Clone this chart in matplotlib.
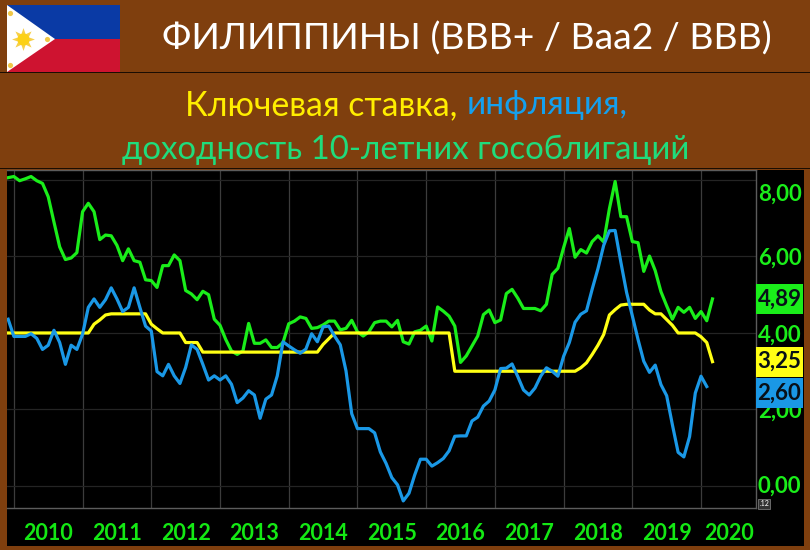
import matplotlib
matplotlib.use("Agg")
import matplotlib.pyplot as plt
from matplotlib.patches import Rectangle, Polygon
import numpy as np

# monthly values, Dec 2009 .. Feb 2020
green = [8.06, 8.09, 7.98, 8.03, 8.09, 7.98, 7.91, 7.56, 6.90, 6.25, 5.92, 5.96, 6.10,
         7.17, 7.39, 7.17, 6.44, 6.56, 6.54, 6.29, 5.89, 6.20, 5.89, 5.85, 5.39,
         5.37, 5.19, 5.76, 5.76, 6.04, 5.89, 5.11, 5.02, 4.87, 5.09, 5.00, 4.36,
         4.20, 3.83, 3.53, 3.44, 3.53, 4.25, 3.73, 3.73, 3.82, 3.62, 3.62, 3.75,
         4.24, 4.31, 4.42, 4.38, 4.12, 4.14, 4.21, 4.31, 4.31, 4.08, 4.12, 4.33,
         4.03, 3.92, 4.03, 4.27, 4.31, 4.31, 4.16, 4.33, 3.77, 3.71, 4.03, 4.07,
         4.18, 3.79, 4.68, 4.57, 4.44, 4.18, 3.23, 3.40, 3.66, 3.92, 4.48, 4.60,
         4.27, 4.34, 5.03, 5.14, 4.91, 4.64, 4.64, 4.64, 4.58, 4.75, 5.53, 5.69,
         6.23, 6.73, 5.98, 6.18, 6.09, 6.39, 6.54, 6.38, 7.25, 7.96, 7.04, 7.04,
         6.39, 6.36, 5.61, 6.01, 5.63, 5.08, 4.71, 4.36, 4.67, 4.54, 4.67, 4.38,
         4.56, 4.32, 4.89]
blue = [4.36, 3.91, 3.91, 3.91, 3.98, 3.86, 3.57, 3.68, 4.07, 3.75, 3.18, 3.68, 3.57,
        3.97, 4.67, 4.89, 4.67, 4.87, 5.18, 4.89, 4.56, 4.67, 5.18, 4.67, 4.18,
        4.05, 2.99, 2.88, 3.18, 2.88, 2.68, 3.10, 3.69, 3.57, 3.18, 2.77, 2.88,
        2.77, 2.88, 2.66, 2.18, 2.30, 2.49, 2.38, 1.77, 2.27, 2.38, 2.88, 3.77,
        3.66, 3.56, 3.47, 3.58, 3.98, 3.77, 4.16, 4.18, 3.92, 3.69, 3.01, 1.89,
        1.50, 1.50, 1.50, 1.39, 0.89, 0.59, 0.22, 0.03, -0.39, -0.19, 0.29, 0.70,
        0.70, 0.52, 0.61, 0.72, 0.92, 1.30, 1.31, 1.31, 1.70, 1.80, 2.09, 2.22,
        2.51, 3.07, 3.08, 3.19, 2.86, 2.51, 2.38, 2.56, 2.87, 3.09, 3.00, 2.87,
        3.39, 3.75, 4.28, 4.49, 4.58, 5.15, 5.68, 6.29, 6.67, 6.68, 5.85, 5.06,
        4.45, 3.83, 3.26, 2.97, 3.16, 2.65, 2.36, 1.60, 0.88, 0.76, 1.29, 2.43,
        2.87, 2.60]
yellow = [4.0] * 15 + [4.23, 4.34, 4.47] + [4.5] * 7 + [4.23, 4.11] + [4.0] * 4 + \
         [3.75, 3.75, 3.75] + [3.5] * 21 + [3.7, 3.85] + [4.0] * 21 + [3.0] * 22 + \
         [3.09, 3.22, 3.44, 3.68, 3.96, 4.47, 4.61, 4.73, 4.75, 4.75, 4.75, 4.75,
          4.6, 4.5, 4.5, 4.35, 4.2, 4.0, 4.0, 4.0, 4.0, 3.9, 3.75, 3.25]

year_labels = ["2010", "2011", "2012", "2013", "2014", "2015", "2016", "2017", "2018", "2019", "2020"]
year_starts = list(range(2010, 2021))
y_ticks = [0, 2, 4, 6, 8]
y_labels = ["0,00", "2,00", "4,00", "6,00", "8,00"]
last_labels = ["4,89", "3,25", "2,60"]

BROWN = "#7f3f0e"
GREEN = "#1aee1a"
YELLOW = "#ffff14"
BLUE = "#1a98e6"
TEAL = "#1fdc7c"
W, H = 810, 550

plt.rcParams["font.family"] = ["Lato", "DejaVu Sans"]

fig = plt.figure(figsize=(8.1, 5.5), dpi=100, facecolor=BROWN)


def px_rect(x0, y0, x1, y1, color):
    fig.add_artist(Rectangle((x0 / W, 1 - y1 / H), (x1 - x0) / W, (y1 - y0) / H,
                             transform=fig.transFigure, color=color, lw=0, zorder=-1))


# black panel and divider lines
px_rect(7, 170, 804, 546, "black")
px_rect(0, 72, W, 73, "#1a0d02")
px_rect(0, 168, W, 169, "#1a0d02")

# flag
fl = fig.add_axes([7 / W, 1 - 72 / H, 113 / W, 67 / H])
fl.set_xlim(0, 113)
fl.set_ylim(67, 0)
fl.axis("off")
fl.add_patch(Rectangle((0, 0), 113, 34, color="#0a3aa5", lw=0))
fl.add_patch(Rectangle((0, 34), 113, 33, color="#ce1330", lw=0))
fl.add_patch(Polygon([(0, 0), (48, 34), (0, 67)], color="white", lw=0))
fl.scatter([16], [34], s=270, marker=(8, 1, 0), color="#f7d04a", lw=0)
fl.scatter([16], [34], s=75, color="#fcd116", lw=0)
fl.scatter([3, 3, 40], [8, 60, 34], s=14, color="#f0c848", lw=0)

# headings
fig.text(162 / W, 1 - 39 / H, "ФИЛИППИНЫ (BBB+ / Baa2 / BBB)", color="white",
         fontsize=26.9, va="center", ha="left")
fig.text(185 / W, 1 - 105 / H, "Ключевая ставка,", color="#ffee00",
         fontsize=24.4, va="center", ha="left")
fig.text(467 / W, 1 - 105 / H, "инфляция,", color="#14a0ee",
         fontsize=24, va="center", ha="left")
fig.text(122 / W, 1 - 150 / H, "доходность 10-летних гособлигаций", color=TEAL,
         fontsize=23.8, va="center", ha="left")

ax = fig.add_axes([7 / W, 1 - 508 / H, 749 / W, 338 / H])
ax.set_facecolor("black")

months = np.arange(len(green)) - 1
t = 2010 + months / 12

ax.plot(t, green, color=GREEN, lw=2.3, zorder=3)
ax.plot(t, yellow, color=YELLOW, lw=2.3, zorder=4)
ax.plot(t[:len(blue)], blue, color=BLUE, lw=2.3, zorder=5)

ax.set_xlim(2009.9, 2020.8)
ax.set_ylim(-0.575, 8.26)

# year gridlines, labels sit in the middle of each year
ax.set_xticks(year_starts, minor=True)
ax.set_xticks([y + 0.5 for y in year_starts[:-1]] + [2020.4])
ax.set_xticklabels(year_labels, color="#14e814", fontsize=15.5, fontweight="bold")
ax.tick_params(axis="x", which="major", length=0, pad=11)
ax.tick_params(axis="x", which="minor", length=0)
ax.grid(True, axis="x", which="minor", color="#3c3c3c", lw=0.9)
ax.set_yticks(y_ticks)
ax.set_yticklabels([])
ax.tick_params(axis="y", length=0)
ax.grid(True, axis="y", color="#242424", lw=0.9)
ax.set_axisbelow(True)

ax.spines["left"].set_visible(False)
for s in ["top", "bottom", "right"]:
    ax.spines[s].set_color("#5c5c5c")
    ax.spines[s].set_linewidth(1)

# y labels by hand: 8,00 is pushed down in the original
offsets = [0, -2, -2, -2, -14]
for v, lab, off in zip(y_ticks, y_labels, offsets):
    ax.annotate(lab, xy=(1, v), xycoords=ax.get_yaxis_transform(), xytext=(2, off),
                textcoords="offset pixels", color=GREEN, fontsize=16, fontweight="bold",
                va="center", ha="left", annotation_clip=False)

# last value boxes
box_w = 47 / 749
box_h = 30 / 38.25
last_vals = [green[-1], yellow[-1], blue[-1] - 0.17]
for val, lab, c in zip(last_vals, last_labels, [GREEN, YELLOW, BLUE]):
    ax.add_patch(Rectangle((1, val - box_h / 2), box_w, box_h, transform=ax.get_yaxis_transform(),
                           facecolor=c, edgecolor="none", clip_on=False, zorder=6))
    ax.text(1 + box_w / 2, val, lab, transform=ax.get_yaxis_transform(), color="#081018",
            fontsize=16, fontweight="bold", va="center", ha="center", clip_on=False, zorder=7)

# small scale marker in the corner
fig.text(764 / W, 1 - 504 / H, ".12", color="white", fontsize=5, va="center", ha="center",
         bbox=dict(facecolor="#333333", edgecolor="#888888", lw=0.5, pad=0.8))

fig.savefig("out.png", dpi=100, facecolor=BROWN)
